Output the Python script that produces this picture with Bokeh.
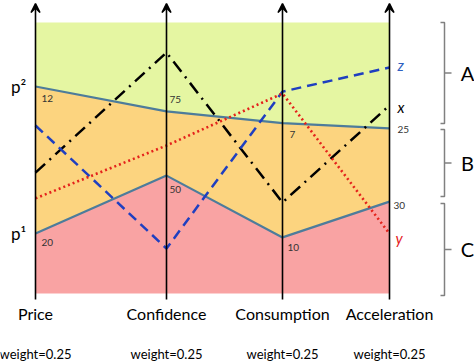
from bokeh.plotting import figure
from bokeh.models import Range1d, Arrow, VeeHead
from bokeh.core.properties import value
from bokeh.embed import file_html
from bokeh.resources import INLINE

# ---------------- data ----------------
criteria = ["Price", "Confidence", "Consumption", "Acceleration"]
weights = ["weight=0.25", "weight=0.25", "weight=0.25", "weight=0.25"]
p2_scores = [76.4, 67.2, 62.9, 60.9]
p1_scores = [22.1, 43.5, 20.7, 33.9]
p2_labels = ["12", "75", "7", "25"]
p1_labels = ["20", "50", "10", "30"]
alt_x = [44.6, 88.9, 33.6, 69.4]
alt_y = [35.1, 54.6, 73.8, 22.1]
alt_z = [62.0, 16.6, 74.5, 83.4]
alt_names = ["x", "y", "z"]
classes = ["A", "B", "C"]
class_top = [100.0, 60.5, 33.2]
class_bottom = [62.7, 35.8, -0.7]
scale_top = 100.0
scale_bottom = 0.0

# ---------------- layout ----------------
axis_x = [35, 166, 282, 389]
bracket_x = 444
FONT = "Lato"

p = figure(width=474, height=363, output_backend="svg", toolbar_location=None,
           x_range=Range1d(0, 474), y_range=Range1d(-25.83, 108.12),
           min_border=0)
p.axis.visible = False
p.grid.visible = False
p.outline_line_color = None
p.background_fill_color = "white"

# regions
p.varea(x=axis_x, y1=p2_scores, y2=[scale_top] * 4, fill_color="#E5F6A2")
p.varea(x=axis_x, y1=p1_scores, y2=p2_scores, fill_color="#FCD47F")
p.varea(x=axis_x, y1=[scale_bottom] * 4, y2=p1_scores, fill_color="#F9A3A3")

# profile boundaries
p.line(axis_x, p2_scores, line_color="#4D7C9B", line_width=2.2)
p.line(axis_x, p1_scores, line_color="#4D7C9B", line_width=2.2)

# criterion axes with arrows
for xa in axis_x:
    p.add_layout(Arrow(x_start=xa, y_start=-2.2, x_end=xa, y_end=107.0,
                       line_color="black", line_width=1.6,
                       end=VeeHead(size=9, line_color="black", fill_color="black", line_width=1.5)))

# alternatives
p.line(axis_x, alt_x, line_color="black", line_width=2.5, line_dash="13 6 2 6")
p.line(axis_x, alt_z, line_color="#1F3FC0", line_width=2.5, line_dash="10 6")
p.line(axis_x, alt_y, line_color="#E4211B", line_width=2.6, line_dash="2 3")

# number labels
p2_off = [(6, 12), (3, -12), (7, 11), (8, 1)]
p1_off = [(6, 9), (3, 14), (5, 10), (4, 4)]
for i in range(4):
    p.text([axis_x[i]], [p2_scores[i]], text=[p2_labels[i]], x_offset=p2_off[i][0], y_offset=p2_off[i][1],
           text_font=value(FONT), text_font_size="10px", text_color="#333333",
           text_align="left", text_baseline="middle")
    p.text([axis_x[i]], [p1_scores[i]], text=[p1_labels[i]], x_offset=p1_off[i][0], y_offset=p1_off[i][1],
           text_font=value(FONT), text_font_size="10px", text_color="#333333",
           text_align="left", text_baseline="middle")

# alternative labels
ends = [alt_x[3], alt_y[3], alt_z[3]]
cols = ["black", "#E4211B", "#2F5FC0"]
offs = [(8, 2), (6, 4), (8, -2)]
for i in range(3):
    p.text([axis_x[3]], [ends[i]], text=[alt_names[i]], x_offset=offs[i][0], y_offset=offs[i][1],
           text_font=value(FONT), text_font_size="15px", text_font_style="italic",
           text_color=cols[i], text_align="left", text_baseline="middle")

# profile names
p.text([axis_x[0], axis_x[0]], [p2_scores[0], p1_scores[0]], text=["p\u00b2", "p\u00b9"],
       x_offset=-17, y_offset=0, text_font=value(FONT), text_font_size="17px",
       text_color="black", text_align="center", text_baseline="middle")

# criterion names and weights
p.text(axis_x, [scale_bottom] * 4, text=criteria, y_offset=20,
       text_font=value(FONT), text_font_size="16px", text_color="black",
       text_align="center", text_baseline="middle")
p.text(axis_x, [scale_bottom] * 4, text=weights, y_offset=60,
       text_font=value(FONT), text_font_size="13px", text_color="black",
       text_align="center", text_baseline="middle")

# class brackets
for i in range(3):
    t, b = class_top[i], class_bottom[i]
    m = (t + b) / 2
    p.line([bracket_x - 4, bracket_x, bracket_x, bracket_x - 4], [t, t, b, b],
           line_color="#808080", line_width=1.5)
    p.line([bracket_x, bracket_x + 7], [m, m], line_color="#808080", line_width=1.5)
    p.text([bracket_x], [m], text=[classes[i]], x_offset=23, text_font=value(FONT),
           text_font_size="20px", text_color="black", text_align="center",
           text_baseline="middle")

open("out.html", "w").write(file_html(p, INLINE))
